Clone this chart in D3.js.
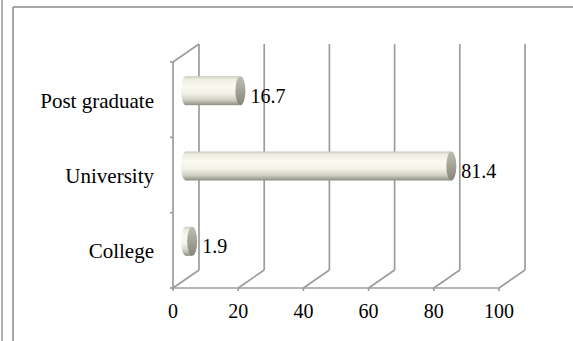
<!DOCTYPE html>
<html>
<head>
<meta charset="utf-8">
<script src="https://cdn.jsdelivr.net/npm/d3@7/dist/d3.min.js"></script>
<style>
  html, body { margin: 0; padding: 0; background: #fff; }
  svg { display: block; }
  text { font-family: "Liberation Serif", "Times New Roman", serif; fill: #000; }
</style>
</head>
<body>
<div id="chart"></div>
<script>
// Education level shares (%)
const categories = ["Post graduate", "University", "College"];
const values = [16.7, 81.4, 1.9];
const xTicks = [0, 20, 40, 60, 80, 100];

const W = 573, H = 341;
const svg = d3.select("#chart").append("svg").attr("width", W).attr("height", H);

// 3D depth offset of the back wall
const DX = 26, DY = -18;
const gridColor = "#9c9c9c";
const gridWidth = 1.7;

const x = d3.scaleLinear().domain([0, 100]).range([173, 499]);
const y = d3.scaleBand().domain(categories).range([62, 288]).padding(0);

// Outer frame
svg.append("line").attr("x1", 2).attr("x2", 2).attr("y1", 0).attr("y2", H)
  .attr("stroke", "#999").attr("stroke-width", 1.5);
svg.append("line").attr("x1", 13).attr("x2", 13).attr("y1", 7).attr("y2", H)
  .attr("stroke", "#888").attr("stroke-width", 1.5);
svg.append("line").attr("x1", 13).attr("x2", W).attr("y1", 7).attr("y2", 7)
  .attr("stroke", "#888").attr("stroke-width", 1.5);

const plotTop = y.range()[0], plotBottom = y.range()[1];
const g = svg.append("g");

// Back wall gridlines and floor diagonals
xTicks.forEach(t => {
  const px = x(t);
  g.append("line").attr("x1", px + DX).attr("x2", px + DX)
    .attr("y1", plotTop + DY).attr("y2", plotBottom + DY)
    .attr("stroke", gridColor).attr("stroke-width", gridWidth);
  g.append("line").attr("x1", px).attr("x2", px + DX)
    .attr("y1", plotBottom).attr("y2", plotBottom + DY)
    .attr("stroke", gridColor).attr("stroke-width", gridWidth);
  g.append("line").attr("x1", px).attr("x2", px)
    .attr("y1", plotBottom).attr("y2", plotBottom + 3)
    .attr("stroke", gridColor).attr("stroke-width", gridWidth);
});

// Floor front edge
g.append("line").attr("x1", x(0)).attr("x2", x(100)).attr("y1", plotBottom).attr("y2", plotBottom)
  .attr("stroke", gridColor).attr("stroke-width", gridWidth);
// Side wall: front edge, top diagonal
g.append("line").attr("x1", x(0)).attr("x2", x(0)).attr("y1", plotTop).attr("y2", plotBottom)
  .attr("stroke", gridColor).attr("stroke-width", gridWidth);
g.append("line").attr("x1", x(0)).attr("x2", x(0) + DX).attr("y1", plotTop).attr("y2", plotTop + DY)
  .attr("stroke", gridColor).attr("stroke-width", gridWidth);

// Category axis ticks
const bounds = categories.map(c => y(c)).concat([plotBottom]);
bounds.forEach(b => {
  g.append("line").attr("x1", x(0) - 3).attr("x2", x(0)).attr("y1", b).attr("y2", b)
    .attr("stroke", gridColor).attr("stroke-width", gridWidth);
});

// Gradients for the cylinders
const defs = svg.append("defs");
const body = defs.append("linearGradient").attr("id", "cylBody")
  .attr("x1", 0).attr("y1", 0).attr("x2", 0).attr("y2", 1);
[[0, "#c9c9bd"], [0.1, "#ecece0"], [0.35, "#fafaf2"], [0.6, "#f2f2e7"],
 [0.82, "#cfcfc3"], [1, "#8e8e84"]].forEach(([o, c]) =>
  body.append("stop").attr("offset", o).attr("stop-color", c));
const cap = defs.append("linearGradient").attr("id", "cylCap")
  .attr("x1", 0).attr("y1", 0).attr("x2", 0).attr("y2", 1);
[[0, "#bdbdb2"], [0.4, "#a8a89d"], [1, "#85857b"]].forEach(([o, c]) =>
  cap.append("stop").attr("offset", o).attr("stop-color", c));

const R = 14.5, RX = 5;
const bars = g.selectAll("g.bar").data(categories).join("g").attr("class", "bar");
bars.each(function(c, i) {
  const sel = d3.select(this);
  const cy = y(c) + y.bandwidth() / 2 + DY / 2;
  const x0 = x(0) + DX / 2, x1 = x(values[i]) + DX / 2;
  // left rounded end
  sel.append("ellipse").attr("cx", x0).attr("cy", cy).attr("rx", RX).attr("ry", R)
    .attr("fill", "url(#cylBody)");
  // body
  sel.append("rect").attr("x", x0).attr("y", cy - R).attr("width", Math.max(0, x1 - x0))
    .attr("height", 2 * R).attr("fill", "url(#cylBody)");
  // right cap
  sel.append("ellipse").attr("cx", x1).attr("cy", cy).attr("rx", RX).attr("ry", R)
    .attr("fill", "url(#cylCap)");
  // value label
  sel.append("text").attr("x", x1 + RX + 5).attr("y", cy + 12)
    .attr("font-size", 20).text(values[i]);
});

// Category labels
categories.forEach(c => {
  g.append("text").attr("x", 154).attr("y", y(c) + y.bandwidth() / 2 + 8)
    .attr("text-anchor", "end").attr("font-size", 21).text(c);
});

// Value axis labels
xTicks.forEach(t => {
  g.append("text").attr("x", x(t)).attr("y", 318).attr("text-anchor", "middle")
    .attr("font-size", 20).text(t);
});
</script>
</body>
</html>
